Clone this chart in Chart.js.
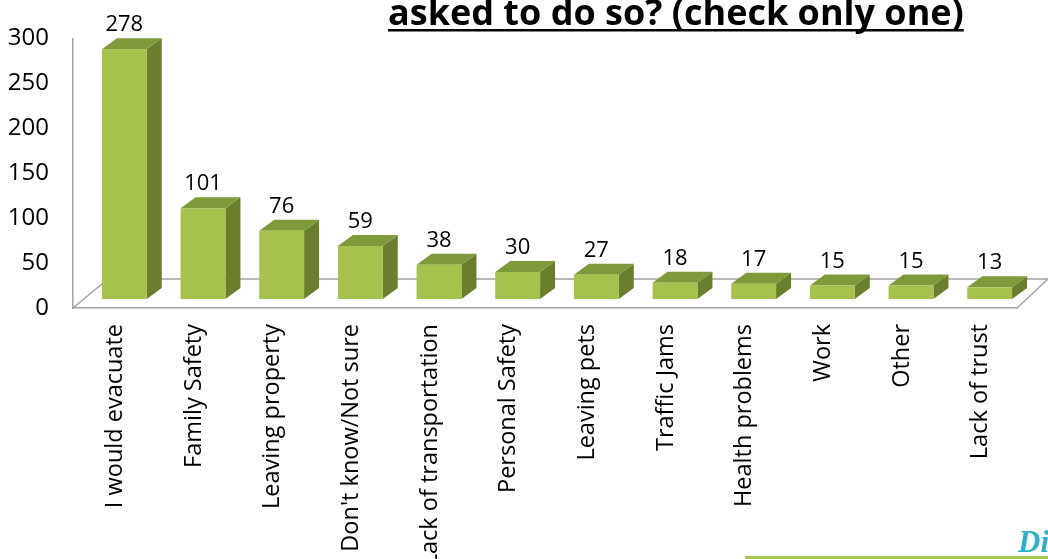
<!DOCTYPE html>
<html>
<head>
<meta charset="utf-8">
<script src="https://cdn.jsdelivr.net/npm/chart.js@4.4.1/dist/chart.umd.min.js"></script>
<style>
  html, body { margin: 0; padding: 0; background: #fff; }
  #wrap { position: relative; width: 1048px; height: 559px; }
</style>
</head>
<body>
<div id="wrap"><canvas id="reasons-chart"></canvas></div>
<script>
// survey answers, one bar per reason
const reasons = [
  "I would evacuate",
  "Family Safety",
  "Leaving property",
  "Don't know/Not sure",
  "Lack of transportation",
  "Personal Safety",
  "Leaving pets",
  "Traffic Jams",
  "Health problems",
  "Work",
  "Other",
  "Lack of trust",
];
const responses = [278, 101, 76, 59, 38, 30, 27, 18, 17, 15, 15, 13];
const yTicks = [0, 50, 100, 150, 200, 250, 300];

const FONT = "'Open Sans', sans-serif";
const AXIS_GREY = "#a3a3a3";

// 3d look: front face sits a bit back from the floor edge, boxes have depth
const face = { dx: 12, dy: -9 };
const depth = { dx: 15, dy: -11 };
const floorDepth = { dx: 31, dy: -29 };

const boxColors = {
  front: "#a6c24c",
  top: "#7f9a3a",
  side: "#6a7e2e",
};

const floorPlugin = {
  id: "floor3d",
  beforeDatasetsDraw(chart) {
    const { ctx, chartArea } = chart;
    const y0 = chart.scales.y.getPixelForValue(0);
    const left = chartArea.left;
    const right = chartArea.right;
    ctx.save();
    ctx.strokeStyle = AXIS_GREY;
    ctx.lineWidth = 1.5;
    ctx.beginPath();
    ctx.moveTo(left, y0);
    ctx.lineTo(left + floorDepth.dx + 4, y0 + floorDepth.dy);
    ctx.lineTo(right + floorDepth.dx, y0 + floorDepth.dy);
    ctx.lineTo(right, y0);
    ctx.stroke();
    ctx.restore();
  },
};

const boxPlugin = {
  id: "boxes3d",
  afterDatasetsDraw(chart) {
    const { ctx } = chart;
    const meta = chart.getDatasetMeta(0);
    ctx.save();
    meta.data.forEach((bar, i) => {
      const { x, y, base, width } = bar.getProps(["x", "y", "base", "width"], true);
      const l = x - width / 2 + face.dx;
      const r = x + width / 2 + face.dx;
      const t = y + face.dy;
      const b = base + face.dy;

      // side
      ctx.fillStyle = boxColors.side;
      ctx.beginPath();
      ctx.moveTo(r, b);
      ctx.lineTo(r, t);
      ctx.lineTo(r + depth.dx, t + depth.dy);
      ctx.lineTo(r + depth.dx, b + depth.dy);
      ctx.closePath();
      ctx.fill();

      // top
      ctx.fillStyle = boxColors.top;
      ctx.beginPath();
      ctx.moveTo(l, t);
      ctx.lineTo(l + depth.dx, t + depth.dy);
      ctx.lineTo(r + depth.dx, t + depth.dy);
      ctx.lineTo(r, t);
      ctx.closePath();
      ctx.fill();

      // front
      ctx.fillStyle = boxColors.front;
      ctx.fillRect(l, t, r - l, b - t);

      // value on top
      ctx.fillStyle = "#000";
      ctx.font = "22px " + FONT;
      ctx.textAlign = "center";
      ctx.textBaseline = "alphabetic";
      ctx.fillText(String(responses[i]), (l + r) / 2, t + depth.dy - 7);
    });
    ctx.restore();
  },
};

const decorPlugin = {
  id: "decor",
  afterDraw(chart) {
    const { ctx } = chart;
    ctx.save();
    // title line (the line above it runs off the top)
    ctx.font = "bold 36px " + FONT;
    ctx.fillStyle = "#000";
    ctx.textAlign = "left";
    ctx.textBaseline = "alphabetic";
    const title = "asked to do so? (check only one)";
    ctx.fillText(title, 388, 25);
    const w = ctx.measureText(title).width;
    ctx.fillRect(388, 29, w, 2.5);

    // footer bits
    ctx.font = "italic bold 31px 'Liberation Serif', serif";
    ctx.fillStyle = "#2bb0cf";
    ctx.fillText("Di", 1018, 552);
    ctx.fillStyle = "#a6c94d";
    ctx.fillRect(745, 556, 303, 3);
    ctx.restore();
  },
};

new Chart(document.getElementById("reasons-chart"), {
  type: "bar",
  data: {
    labels: reasons,
    datasets: [
      {
        data: responses,
        backgroundColor: "rgba(0,0,0,0)",
        borderWidth: 0,
        categoryPercentage: 1,
        barPercentage: 0.57,
      },
    ],
  },
  options: {
    responsive: true,
    maintainAspectRatio: false,
    animation: false,
    layout: {
      padding: { left: 0, top: 32, right: 31, bottom: 0 },
    },
    scales: {
      x: {
        afterFit(scale) {
          scale.height = 251;
        },
        grid: { display: false, drawTicks: false },
        border: { display: true, color: AXIS_GREY, width: 1.5 },
        ticks: {
          color: "#000",
          font: { family: FONT, size: 23.5 },
          minRotation: 90,
          maxRotation: 90,
          autoSkip: false,
          padding: 16,
          labelOffset: 3,
        },
      },
      y: {
        min: 0,
        max: 300,
        afterFit(scale) {
          scale.width = 73;
        },
        afterBuildTicks(scale) {
          scale.ticks = yTicks.map((v) => ({ value: v }));
        },
        grid: { display: false, drawTicks: false },
        border: { display: true, color: AXIS_GREY, width: 1.5 },
        ticks: {
          color: "#000",
          font: { family: FONT, size: 24 },
          padding: 24,
        },
      },
    },
    plugins: {
      legend: { display: false },
      tooltip: { enabled: false },
    },
  },
  plugins: [floorPlugin, boxPlugin, decorPlugin],
});
</script>
</body>
</html>
